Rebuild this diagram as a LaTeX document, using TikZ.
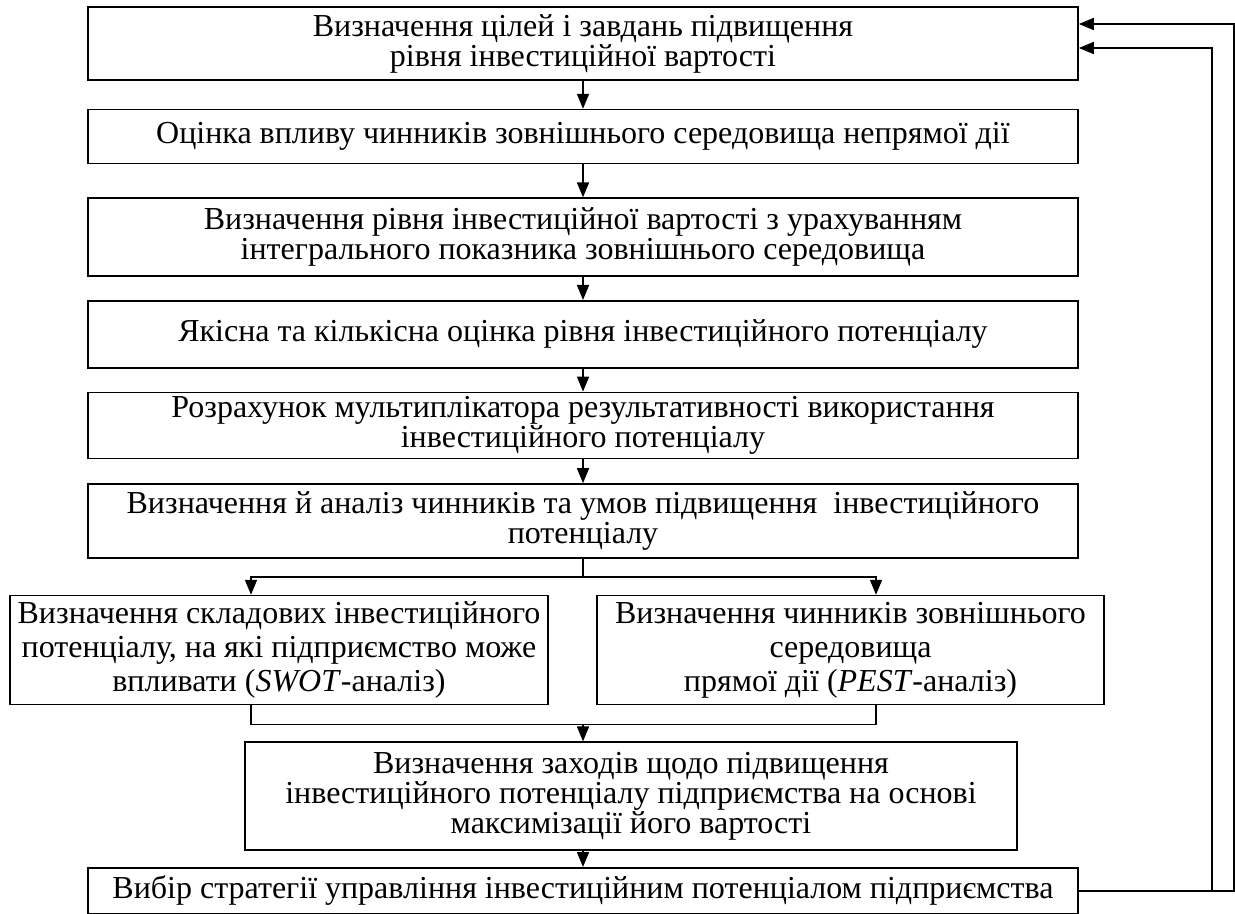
\documentclass[tikz,border=0pt]{standalone}
\usepackage{fontspec}
\setmainfont{Liberation Serif}
\usepackage{tikz}
\usetikzlibrary{positioning,arrows.meta}

\begin{document}
\begin{tikzpicture}[>={Triangle[length=7.5pt,width=6pt]},line width=0.8pt,
  box/.style={draw,align=center,inner sep=1pt,font=\fontsize{16}{15}\selectfont,minimum width=495pt}]
\useasboundingbox (0,0) rectangle (617.5pt,-457pt);
\node[box,minimum height=36.5pt] (st1) at (291.5pt,-21.75pt) {Визначення цілей і завдань підвищення\\рівня інвестиційної вартості};
\node[box,minimum height=27pt,below=14pt of st1] (st2) {Оцінка впливу чинників зовнішнього середовища непрямої дії};
\node[box,minimum height=39pt,below=16.5pt of st2] (st3) {Визначення рівня інвестиційної вартості з урахуванням\\інтегрального показника зовнішнього середовища};
\node[box,minimum height=33.5pt,below=11.5pt of st3] (st4) {Якісна та кількісна оцінка рівня інвестиційного потенціалу};
\node[box,minimum height=33pt,below=11.5pt of st4] (st5) {Розрахунок мультиплікатора результативності використання\\інвестиційного потенціалу};
\node[box,minimum height=37pt,below=12pt of st5] (st6) {Визначення й аналіз чинників та умов підвищення\ \ інвестиційного\\потенціалу};
\node[box,minimum height=54.5pt,minimum width=269pt,below=18pt of st6,xshift=-152pt,font=\fontsize{16}{17}\selectfont] (swot) {Визначення складових інвестиційного\\потенціалу, на які підприємство може\\впливати (\textit{SWOT}-аналіз)};
\node[box,minimum height=54.5pt,minimum width=253.5pt,below=18pt of st6,xshift=133.75pt,font=\fontsize{16}{17}\selectfont] (pest) {Визначення чинників зовнішнього\\середовища\\прямої дії (\textit{PEST}-аналіз)};
\coordinate (mid) at (swot.south -| st6.south);
\node[box,minimum height=54pt,minimum width=386pt,below=18pt of mid,xshift=24pt] (st9) {Визначення заходів щодо підвищення\\інвестиційного потенціалу підприємства на основі\\максимізації його вартості};
\node[box,minimum height=23pt,below=8pt of st9,xshift=-24pt] (st10) {Вибір стратегії управління інвестиційним потенціалом підприємства};
% main chain
\foreach \a/\b in {st1/st2,st2/st3,st3/st4,st4/st5,st5/st6}
  \draw[->] (\a.south) -- (\b.north);
% fork into the two analyses
\draw (st6.south) -- ++(0,-9pt) coordinate (fork);
\draw[->] (fork) -| ([xshift=-14pt]swot.north);
\draw[->] (fork) -| ([xshift=12.75pt]pest.north);
\draw ([xshift=-14pt]swot.south) -- ++(0,-9.5pt) coordinate (join) -| ([xshift=12.75pt]pest.south);
\draw[->] (st6.south |- join) -- (st6.south |- st9.north);
\draw[->] (st6.south |- st9.south) -- (st6.south |- st10.north);
% feedback
\draw[->] (st10.east) -- ++(77.5pt,0) |- ([yshift=9.75pt]st1.east);
\draw[->] ([xshift=66.5pt]st10.east) |- ([yshift=-2.25pt]st1.east);
\end{tikzpicture}
\end{document}
